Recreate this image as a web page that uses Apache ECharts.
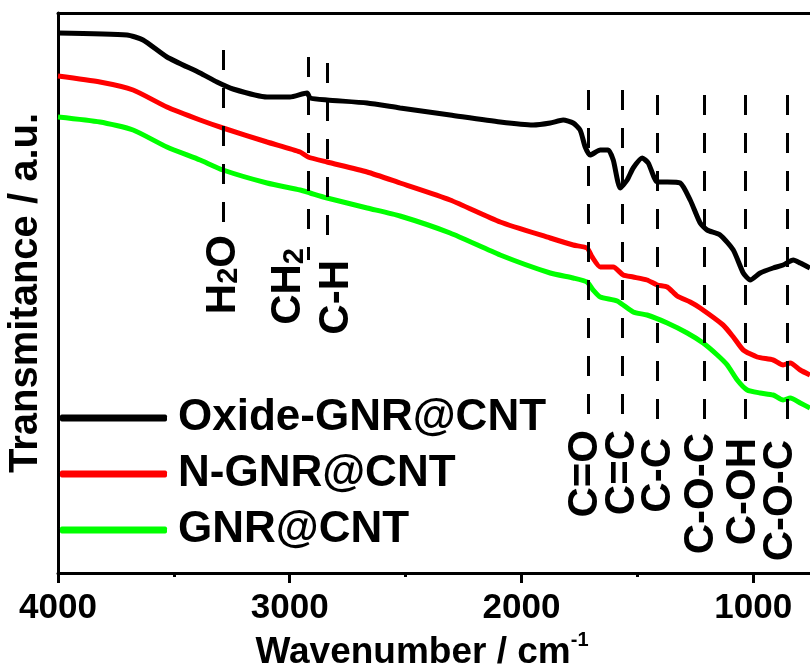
<!DOCTYPE html>
<html>
<head>
<meta charset="utf-8">
<title>FTIR spectra</title>
<script src="https://cdn.jsdelivr.net/npm/echarts@6/dist/echarts.min.js"></script>
<style>
  html, body { margin: 0; padding: 0; background: #fff; }
  #chart { width: 810px; height: 664px; }
</style>
</head>
<body>
<div id="chart"></div>
<script>
// spectra (wavenumber / transmittance a.u.)
const blackX = [4000, 3702, 3633, 3530, 3387, 3314, 3245, 3098, 2999, 2925, 2912, 2839, 2666, 2524, 2308, 2092, 1950, 1876, 1820, 1777, 1747, 1725, 1704, 1660, 1626, 1604, 1574, 1544, 1518, 1479, 1453, 1414, 1371, 1315, 1272, 1229, 1199, 1143, 1086, 1043, 1013, 970, 914, 871, 827, 797, 755]
const blackY = [54.0, 53.8, 53.3, 51.6, 50.0, 49.1, 48.4, 47.6, 47.6, 48.0, 47.5, 47.3, 47.0, 46.5, 45.8, 45.1, 44.8, 45.0, 45.3, 45.0, 44.3, 42.6, 41.8, 42.3, 42.3, 41.3, 38.5, 39.3, 40.5, 41.5, 41.0, 39.1, 39.1, 39.0, 37.3, 35.0, 34.3, 33.8, 32.3, 30.0, 29.3, 30.0, 30.5, 30.8, 31.3, 31.0, 30.5]

const redX = [4000, 3819, 3676, 3530, 3387, 3288, 3098, 2955, 2921, 2839, 2666, 2524, 2308, 2092, 1876, 1777, 1717, 1695, 1660, 1604, 1561, 1518, 1458, 1414, 1371, 1328, 1272, 1229, 1130, 1086, 1043, 983, 914, 871, 840, 797, 755]
const redY = [49.7, 49.1, 48.3, 46.6, 45.3, 44.5, 43.1, 42.1, 41.6, 41.1, 40.1, 39.0, 37.3, 35.1, 33.5, 32.8, 32.5, 31.6, 30.6, 30.6, 29.8, 29.6, 29.3, 28.8, 28.6, 27.7, 27.1, 26.5, 24.8, 23.6, 22.3, 21.6, 21.3, 20.8, 21.0, 20.3, 19.8]

const greenX = [4000, 3819, 3676, 3530, 3387, 3288, 3098, 2955, 2912, 2839, 2666, 2524, 2308, 2092, 1876, 1777, 1717, 1691, 1660, 1587, 1518, 1458, 1371, 1285, 1216, 1155, 1112, 1069, 1026, 970, 914, 871, 840, 797, 755]
const greenY = [45.6, 45.1, 44.3, 42.6, 41.3, 40.3, 39.0, 38.3, 38.0, 37.5, 36.5, 35.7, 34.0, 31.8, 30.0, 29.5, 29.1, 28.3, 27.6, 27.2, 26.1, 25.8, 25.0, 24.0, 23.0, 21.8, 20.8, 19.3, 18.3, 18.0, 17.8, 17.3, 17.5, 17.0, 16.5]

const seriesNames = ['Oxide-GNR@CNT', 'N-GNR@CNT', 'GNR@CNT']

// band assignments
const bandLabels = ['{m|H}{s|2}{m|O}', '{m|CH}{s|2}', '{p|C-H}', '{p|C=O}', '{p|C=C}', '{p|C-C}', '{p|C-O-C}', '{p|C-OH}', '{p|C-O-C}']
const bandX = [3288, 2921, 2839, 1712, 1565, 1414, 1212, 1035, 853]
const bandTop = [52.3, 51.6, 51.0, 48.3, 48.3, 47.8, 47.8, 47.8, 47.8]
const bandBottom = [34.6, 31.3, 33.1, 14.6, 14.6, 14.3, 14.6, 14.3, 14.1]
const labelX = [3288, 3007, 2800, 1725, 1565, 1410, 1224, 1043, 884]
const labelTop = [33.8, 32.5, 31.3, 14.3, 14.3, 13.5, 14.0, 13.5, 13.3]

const majorTicks = [1000, 2000, 3000, 4000]
const minorTicks = [1500, 2500, 3500]

const zip = (xs, ys) => xs.map((x, i) => [x, ys[i]])

const chart = echarts.init(document.getElementById('chart'))

const fontFamily = '"Liberation Sans", Arial, sans-serif'
const axisColor = '#000'

const xBase = {
  type: 'value',
  min: 755,
  max: 4000,
  inverse: true,
  splitLine: { show: false },
  gridIndex: 0
}

const option = {
  animation: false,
  backgroundColor: '#fff',
  textStyle: { fontFamily: fontFamily },
  grid: {
    left: 58,
    right: 0,
    top: 13,
    bottom: 91,
    containLabel: false,
    outerBoundsMode: 'none'
  },
  legend: {
    data: seriesNames,
    orient: 'vertical',
    left: 60,
    top: 396,
    padding: 0,
    itemGap: 12,
    itemWidth: 107,
    itemHeight: 7,
    icon: 'roundRect',
    selectedMode: false,
    textStyle: {
      color: '#000',
      fontSize: 44,
      fontWeight: 'bold',
      fontFamily: fontFamily,
      lineHeight: 44,
      padding: [0, 0, 0, 6]
    }
  },
  xAxis: [
    Object.assign({}, xBase, {
      position: 'bottom',
      name: '{t|Wavenumber / cm}{u|-1}',
      nameLocation: 'middle',
      nameGap: 50,
      nameTextStyle: {
        padding: [0, 24, 0, 0],
        rich: {
          t: { fontSize: 37, fontWeight: 'bold', color: '#000', lineHeight: 40, verticalAlign: 'bottom', fontFamily: fontFamily },
          u: { fontSize: 20, fontWeight: 'bold', color: '#000', lineHeight: 20, verticalAlign: 'top', fontFamily: fontFamily }
        }
      },
      axisLine: { onZero: false, lineStyle: { color: axisColor, width: 3 } },
      axisTick: { show: true, customValues: majorTicks, length: 10, lineStyle: { color: axisColor, width: 3 } },
      axisLabel: {
        customValues: majorTicks,
        formatter: v => String(v),
        margin: 18,
        color: '#000',
        fontSize: 35,
        fontWeight: 'bold',
        fontFamily: fontFamily
      }
    }),
    // minor ticks
    Object.assign({}, xBase, {
      position: 'bottom',
      axisLine: { show: false, onZero: false },
      axisTick: { show: true, customValues: minorTicks, length: 4, lineStyle: { color: axisColor, width: 3 } },
      axisLabel: { show: false }
    }),
    // top frame
    Object.assign({}, xBase, {
      position: 'top',
      axisLine: { onZero: false, lineStyle: { color: axisColor, width: 3 } },
      axisTick: { show: false },
      axisLabel: { show: false }
    })
  ],
  yAxis: {
    type: 'value',
    min: 0,
    max: 56,
    name: 'Transmitance / a.u.',
    nameLocation: 'middle',
    nameGap: 12,
    nameTextStyle: {
      color: '#000',
      fontSize: 40,
      fontWeight: 'bold',
      fontFamily: fontFamily
    },
    axisLine: { show: true, onZero: false, lineStyle: { color: axisColor, width: 3 } },
    axisTick: { show: false },
    axisLabel: { show: false },
    splitLine: { show: false }
  },
  series: [
    {
      name: seriesNames[0],
      type: 'line',
      data: zip(blackX, blackY),
      showSymbol: false,
      symbol: 'none',
      smooth: 0.2,
      lineStyle: { color: '#000', width: 5 },
      itemStyle: { color: '#000' }
    },
    {
      name: seriesNames[1],
      type: 'line',
      data: zip(redX, redY),
      showSymbol: false,
      symbol: 'none',
      smooth: 0.2,
      lineStyle: { color: '#ff0000', width: 5 },
      itemStyle: { color: '#ff0000' }
    },
    {
      name: seriesNames[2],
      type: 'line',
      data: zip(greenX, greenY),
      showSymbol: false,
      symbol: 'none',
      smooth: 0.2,
      lineStyle: { color: '#00ff00', width: 5 },
      itemStyle: { color: '#00ff00' }
    },
    {
      name: 'bands',
      type: 'scatter',
      silent: true,
      symbolSize: 0,
      z: 5,
      itemStyle: { color: '#000', opacity: 1 },
      data: labelX.map((x, i) => ({ value: [x, labelTop[i]], label: { formatter: bandLabels[i] } })),
      label: {
        show: true,
        position: 'inside',
        rotate: 90,
        align: 'right',
        verticalAlign: 'middle',
        color: '#000',
        opacity: 1,
        textBorderWidth: 0,
        rich: {
          m: { fontSize: 42, fontWeight: 'bold', color: '#000', lineHeight: 42, padding: [0, 0, 10, 0], verticalAlign: 'top', fontFamily: fontFamily },
          s: { fontSize: 29, fontWeight: 'bold', color: '#000', lineHeight: 29, verticalAlign: 'bottom', fontFamily: fontFamily },
          p: { fontSize: 42, fontWeight: 'bold', color: '#000', lineHeight: 42, fontFamily: fontFamily }
        }
      },
      labelLayout: { hideOverlap: false },
      markLine: {
        silent: true,
        symbol: ['none', 'none'],
        label: { show: false },
        lineStyle: { color: '#000', width: 3, type: [20, 18], opacity: 1 },
        emphasis: { disabled: true },
        data: bandX.map((x, i) => [
          { coord: [x, bandTop[i]] },
          { coord: [x, bandBottom[i]] }
        ])
      }
    }
  ]
}

chart.setOption(option)
</script>
</body>
</html>
